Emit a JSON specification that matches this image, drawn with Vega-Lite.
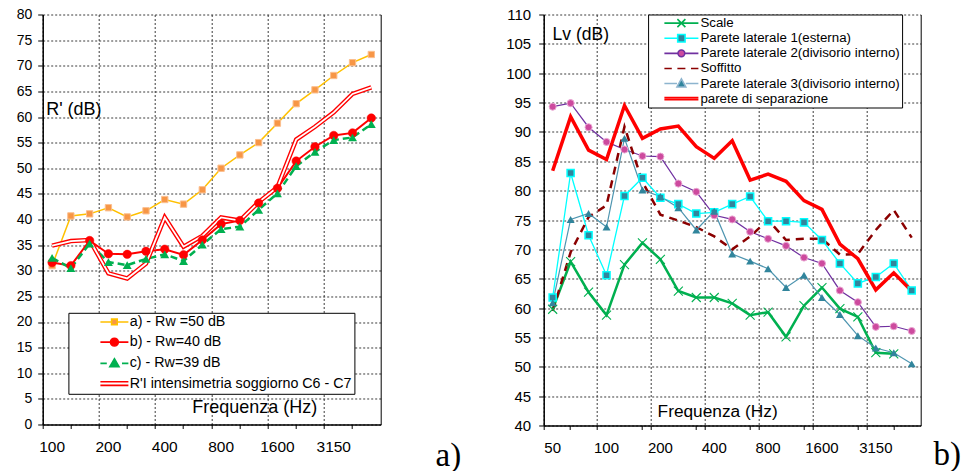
{
"$schema": "https://vega.github.io/schema/vega-lite/v6.json",
"padding": {"left": 15.7, "top": 7.5, "right": 0, "bottom": 0},
"background": "#ffffff",
"config": {
  "font": "Liberation Sans",
  "view": {"stroke": null},
  "axis": {"labelFont": "Liberation Sans", "titleFont": "Liberation Sans", "labelColor": "#000000", "titleColor": "#000000", "titleFontWeight": "normal", "domainColor": "#000000", "tickColor": "#000000", "gridColor": "#3a3a3a", "gridDash": [2, 2], "gridWidth": 1, "labelAngle": 0},
  "legend": {"labelFont": "Liberation Sans", "labelColor": "#000000"}
},
"datasets": {
  "L": [
    {"f":"100","s":"a) - Rw =50 dB","v":31.0},{"f":"125","s":"a) - Rw =50 dB","v":40.7},{"f":"160","s":"a) - Rw =50 dB","v":41.1},{"f":"200","s":"a) - Rw =50 dB","v":42.3},{"f":"250","s":"a) - Rw =50 dB","v":40.5},{"f":"315","s":"a) - Rw =50 dB","v":41.7},{"f":"400","s":"a) - Rw =50 dB","v":43.9},{"f":"500","s":"a) - Rw =50 dB","v":43.0},{"f":"630","s":"a) - Rw =50 dB","v":45.8},{"f":"800","s":"a) - Rw =50 dB","v":50.0},{"f":"1000","s":"a) - Rw =50 dB","v":52.6},{"f":"1250","s":"a) - Rw =50 dB","v":55.0},{"f":"1600","s":"a) - Rw =50 dB","v":58.8},{"f":"2000","s":"a) - Rw =50 dB","v":62.6},{"f":"2500","s":"a) - Rw =50 dB","v":65.3},{"f":"3150","s":"a) - Rw =50 dB","v":68.1},{"f":"4000","s":"a) - Rw =50 dB","v":70.6},{"f":"5000","s":"a) - Rw =50 dB","v":72.2},
    {"f":"100","s":"b) - Rw=40 dB","v":31.6},{"f":"125","s":"b) - Rw=40 dB","v":31.0},{"f":"160","s":"b) - Rw=40 dB","v":35.9},{"f":"200","s":"b) - Rw=40 dB","v":33.3},{"f":"250","s":"b) - Rw=40 dB","v":33.2},{"f":"315","s":"b) - Rw=40 dB","v":33.8},{"f":"400","s":"b) - Rw=40 dB","v":34.2},{"f":"500","s":"b) - Rw=40 dB","v":33.1},{"f":"630","s":"b) - Rw=40 dB","v":36.0},{"f":"800","s":"b) - Rw=40 dB","v":39.1},{"f":"1000","s":"b) - Rw=40 dB","v":39.8},{"f":"1250","s":"b) - Rw=40 dB","v":43.2},{"f":"1600","s":"b) - Rw=40 dB","v":46.1},{"f":"2000","s":"b) - Rw=40 dB","v":51.4},{"f":"2500","s":"b) - Rw=40 dB","v":54.2},{"f":"3150","s":"b) - Rw=40 dB","v":56.4},{"f":"4000","s":"b) - Rw=40 dB","v":56.9},{"f":"5000","s":"b) - Rw=40 dB","v":59.8},
    {"f":"100","s":"c) - Rw=39 dB","v":32.5},{"f":"125","s":"c) - Rw=39 dB","v":30.5},{"f":"160","s":"c) - Rw=39 dB","v":35.3},{"f":"200","s":"c) - Rw=39 dB","v":31.7},{"f":"250","s":"c) - Rw=39 dB","v":31.1},{"f":"315","s":"c) - Rw=39 dB","v":32.3},{"f":"400","s":"c) - Rw=39 dB","v":33.2},{"f":"500","s":"c) - Rw=39 dB","v":31.9},{"f":"630","s":"c) - Rw=39 dB","v":35.1},{"f":"800","s":"c) - Rw=39 dB","v":38.1},{"f":"1000","s":"c) - Rw=39 dB","v":38.6},{"f":"1250","s":"c) - Rw=39 dB","v":41.9},{"f":"1600","s":"c) - Rw=39 dB","v":45.1},{"f":"2000","s":"c) - Rw=39 dB","v":50.4},{"f":"2500","s":"c) - Rw=39 dB","v":53.2},{"f":"3150","s":"c) - Rw=39 dB","v":55.5},{"f":"4000","s":"c) - Rw=39 dB","v":56.0},{"f":"5000","s":"c) - Rw=39 dB","v":58.6},
    {"f":"100","s":"R'I intensimetria soggiorno C6 - C7","v":34.9},{"f":"125","s":"R'I intensimetria soggiorno C6 - C7","v":35.8},{"f":"160","s":"R'I intensimetria soggiorno C6 - C7","v":36.0},{"f":"200","s":"R'I intensimetria soggiorno C6 - C7","v":29.5},{"f":"250","s":"R'I intensimetria soggiorno C6 - C7","v":28.5},{"f":"315","s":"R'I intensimetria soggiorno C6 - C7","v":31.4},{"f":"400","s":"R'I intensimetria soggiorno C6 - C7","v":40.4},{"f":"500","s":"R'I intensimetria soggiorno C6 - C7","v":34.7},{"f":"630","s":"R'I intensimetria soggiorno C6 - C7","v":36.8},{"f":"800","s":"R'I intensimetria soggiorno C6 - C7","v":40.4},{"f":"1000","s":"R'I intensimetria soggiorno C6 - C7","v":39.8},{"f":"1250","s":"R'I intensimetria soggiorno C6 - C7","v":43.4},{"f":"1600","s":"R'I intensimetria soggiorno C6 - C7","v":46.3},{"f":"2000","s":"R'I intensimetria soggiorno C6 - C7","v":55.6},{"f":"2500","s":"R'I intensimetria soggiorno C6 - C7","v":58.1},{"f":"3150","s":"R'I intensimetria soggiorno C6 - C7","v":60.9},{"f":"4000","s":"R'I intensimetria soggiorno C6 - C7","v":64.5},{"f":"5000","s":"R'I intensimetria soggiorno C6 - C7","v":65.8}
  ],
  "R": [
    {"f":"50","s":"Scale","v":59.8},{"f":"63","s":"Scale","v":67.9},{"f":"80","s":"Scale","v":62.7},{"f":"100","s":"Scale","v":58.8},{"f":"125","s":"Scale","v":67.4},{"f":"160","s":"Scale","v":71.1},{"f":"200","s":"Scale","v":68.3},{"f":"250","s":"Scale","v":62.9},{"f":"315","s":"Scale","v":61.8},{"f":"400","s":"Scale","v":61.8},{"f":"500","s":"Scale","v":60.8},{"f":"630","s":"Scale","v":58.8},{"f":"800","s":"Scale","v":59.3},{"f":"1000","s":"Scale","v":55.1},{"f":"1250","s":"Scale","v":60.4},{"f":"1600","s":"Scale","v":63.5},{"f":"2000","s":"Scale","v":59.9},{"f":"2500","s":"Scale","v":58.5},{"f":"3150","s":"Scale","v":52.4},{"f":"4000","s":"Scale","v":52.2},
    {"f":"50","s":"Parete laterale 1(esterna)","v":61.8},{"f":"63","s":"Parete laterale 1(esterna)","v":83.0},{"f":"80","s":"Parete laterale 1(esterna)","v":72.4},{"f":"100","s":"Parete laterale 1(esterna)","v":65.6},{"f":"125","s":"Parete laterale 1(esterna)","v":79.1},{"f":"160","s":"Parete laterale 1(esterna)","v":82.2},{"f":"200","s":"Parete laterale 1(esterna)","v":78.8},{"f":"250","s":"Parete laterale 1(esterna)","v":77.7},{"f":"315","s":"Parete laterale 1(esterna)","v":76.1},{"f":"400","s":"Parete laterale 1(esterna)","v":76.3},{"f":"500","s":"Parete laterale 1(esterna)","v":77.7},{"f":"630","s":"Parete laterale 1(esterna)","v":79.0},{"f":"800","s":"Parete laterale 1(esterna)","v":74.8},{"f":"1000","s":"Parete laterale 1(esterna)","v":74.8},{"f":"1250","s":"Parete laterale 1(esterna)","v":74.6},{"f":"1600","s":"Parete laterale 1(esterna)","v":71.6},{"f":"2000","s":"Parete laterale 1(esterna)","v":67.6},{"f":"2500","s":"Parete laterale 1(esterna)","v":64.2},{"f":"3150","s":"Parete laterale 1(esterna)","v":65.3},{"f":"4000","s":"Parete laterale 1(esterna)","v":67.6},{"f":"5000","s":"Parete laterale 1(esterna)","v":63.0},
    {"f":"50","s":"Parete laterale 2(divisorio interno)","v":94.3},{"f":"63","s":"Parete laterale 2(divisorio interno)","v":94.9},{"f":"80","s":"Parete laterale 2(divisorio interno)","v":90.8},{"f":"100","s":"Parete laterale 2(divisorio interno)","v":88.3},{"f":"125","s":"Parete laterale 2(divisorio interno)","v":87.0},{"f":"160","s":"Parete laterale 2(divisorio interno)","v":85.9},{"f":"200","s":"Parete laterale 2(divisorio interno)","v":85.8},{"f":"250","s":"Parete laterale 2(divisorio interno)","v":81.2},{"f":"315","s":"Parete laterale 2(divisorio interno)","v":79.8},{"f":"400","s":"Parete laterale 2(divisorio interno)","v":75.8},{"f":"500","s":"Parete laterale 2(divisorio interno)","v":75.1},{"f":"630","s":"Parete laterale 2(divisorio interno)","v":73.0},{"f":"800","s":"Parete laterale 2(divisorio interno)","v":71.8},{"f":"1000","s":"Parete laterale 2(divisorio interno)","v":70.6},{"f":"1250","s":"Parete laterale 2(divisorio interno)","v":68.6},{"f":"1600","s":"Parete laterale 2(divisorio interno)","v":67.6},{"f":"2000","s":"Parete laterale 2(divisorio interno)","v":63.0},{"f":"2500","s":"Parete laterale 2(divisorio interno)","v":61.0},{"f":"3150","s":"Parete laterale 2(divisorio interno)","v":56.8},{"f":"4000","s":"Parete laterale 2(divisorio interno)","v":56.9},{"f":"5000","s":"Parete laterale 2(divisorio interno)","v":56.1},
    {"f":"50","s":"Soffitto","v":59.5},{"f":"63","s":"Soffitto","v":69.5},{"f":"80","s":"Soffitto","v":75.5},{"f":"100","s":"Soffitto","v":77.5},{"f":"125","s":"Soffitto","v":90.9},{"f":"160","s":"Soffitto","v":81.5},{"f":"200","s":"Soffitto","v":75.9},{"f":"250","s":"Soffitto","v":74.9},{"f":"315","s":"Soffitto","v":73.8},{"f":"400","s":"Soffitto","v":72.2},{"f":"500","s":"Soffitto","v":70.0},{"f":"630","s":"Soffitto","v":72.2},{"f":"800","s":"Soffitto","v":75.0},{"f":"1000","s":"Soffitto","v":71.6},{"f":"1250","s":"Soffitto","v":71.8},{"f":"1600","s":"Soffitto","v":71.8},{"f":"2000","s":"Soffitto","v":69.1},{"f":"2500","s":"Soffitto","v":69.2},{"f":"3150","s":"Soffitto","v":73.3},{"f":"4000","s":"Soffitto","v":76.7},{"f":"5000","s":"Soffitto","v":72.0},
    {"f":"50","s":"Parete laterale 3(divisorio interno)","v":60.9},{"f":"63","s":"Parete laterale 3(divisorio interno)","v":75.1},{"f":"80","s":"Parete laterale 3(divisorio interno)","v":76.1},{"f":"100","s":"Parete laterale 3(divisorio interno)","v":73.8},{"f":"125","s":"Parete laterale 3(divisorio interno)","v":88.9},{"f":"160","s":"Parete laterale 3(divisorio interno)","v":80.1},{"f":"200","s":"Parete laterale 3(divisorio interno)","v":79.0},{"f":"250","s":"Parete laterale 3(divisorio interno)","v":77.1},{"f":"315","s":"Parete laterale 3(divisorio interno)","v":73.3},{"f":"400","s":"Parete laterale 3(divisorio interno)","v":76.5},{"f":"500","s":"Parete laterale 3(divisorio interno)","v":69.2},{"f":"630","s":"Parete laterale 3(divisorio interno)","v":68.0},{"f":"800","s":"Parete laterale 3(divisorio interno)","v":66.7},{"f":"1000","s":"Parete laterale 3(divisorio interno)","v":63.5},{"f":"1250","s":"Parete laterale 3(divisorio interno)","v":65.6},{"f":"1600","s":"Parete laterale 3(divisorio interno)","v":61.8},{"f":"2000","s":"Parete laterale 3(divisorio interno)","v":58.9},{"f":"2500","s":"Parete laterale 3(divisorio interno)","v":55.3},{"f":"3150","s":"Parete laterale 3(divisorio interno)","v":53.2},{"f":"4000","s":"Parete laterale 3(divisorio interno)","v":52.4},{"f":"5000","s":"Parete laterale 3(divisorio interno)","v":50.5},
    {"f":"50","s":"parete di separazione","v":83.4},{"f":"63","s":"parete di separazione","v":92.6},{"f":"80","s":"parete di separazione","v":86.9},{"f":"100","s":"parete di separazione","v":85.3},{"f":"125","s":"parete di separazione","v":94.5},{"f":"160","s":"parete di separazione","v":88.9},{"f":"200","s":"parete di separazione","v":90.5},{"f":"250","s":"parete di separazione","v":91.0},{"f":"315","s":"parete di separazione","v":87.5},{"f":"400","s":"parete di separazione","v":85.5},{"f":"500","s":"parete di separazione","v":88.5},{"f":"630","s":"parete di separazione","v":81.8},{"f":"800","s":"parete di separazione","v":82.8},{"f":"1000","s":"parete di separazione","v":81.6},{"f":"1250","s":"parete di separazione","v":78.3},{"f":"1600","s":"parete di separazione","v":76.8},{"f":"2000","s":"parete di separazione","v":70.9},{"f":"2500","s":"parete di separazione","v":68.4},{"f":"3150","s":"parete di separazione","v":63.1},{"f":"4000","s":"parete di separazione","v":66.0},{"f":"5000","s":"parete di separazione","v":62.9}
  ]
},
"resolve": {
  "scale": {"fill": "independent", "stroke": "independent", "shape": "independent"},
  "legend": {"fill": "independent", "stroke": "independent", "shape": "independent"}
},
"hconcat": [
  {
    "width": 338, "height": 410,
    "data": {"name": "L"},
    "resolve": {"axis": {"x": "independent", "y": "independent"}},
    "layer": [
      {"transform": [{"filter": {"field": "s", "equal": "a) - Rw =50 dB"}}],
       "mark": {"type": "line", "color": "#FFC000", "strokeWidth": 1.5},
       "encoding": {
         "x": {"field": "f", "type": "ordinal", "bandPosition": 0.5, "scale": {"type": "band", "domain": ["100","125","160","200","250","315","400","500","630","800","1000","1250","1600","2000","2500","3150","4000","5000"], "paddingInner": 0, "paddingOuter": 0},
               "axis": {"orient": "bottom", "values": ["100","200","400","800","1600","3150"], "bandPosition": 0.5, "ticks": false, "tickSize": 0, "grid": false, "domain": true, "domainWidth": 1.5, "labelFontSize": 15.5, "labelPadding": 15, "title": "Frequenza (Hz)", "titleFontSize": 18, "titleX": 149, "titleY": -11.6, "titleAlign": "left", "titleBaseline": "alphabetic"}},
         "y": {"field": "v", "type": "quantitative", "scale": {"domain": [0, 80], "nice": false, "zero": false},
               "axis": {"orient": "left", "values": [0,5,10,15,20,25,30,35,40,45,50,55,60,65,70,75,80], "grid": true, "ticks": true, "tickSize": 5, "domain": true, "domainWidth": 1.5, "labelFontSize": 14, "labelPadding": 6, "title": "R' (dB)", "titleAngle": 0, "titleAlign": "left", "titleBaseline": "alphabetic", "titleX": 3, "titleY": 100.3, "titleFontSize": 18}}
       }},
      {"transform": [{"filter": {"field": "s", "equal": "b) - Rw=40 dB"}}],
       "mark": {"type": "line", "color": "#FF0000", "strokeWidth": 2},
       "encoding": {
         "x": {"field": "f", "type": "ordinal", "bandPosition": 0.5, "scale": {"type": "band", "domain": ["100","125","160","200","250","315","400","500","630","800","1000","1250","1600","2000","2500","3150","4000","5000"], "paddingInner": 0, "paddingOuter": 0}, "axis": null},
         "y": {"field": "v", "type": "quantitative", "scale": {"domain": [0, 80], "nice": false, "zero": false}, "axis": null}
       }},
      {"transform": [{"filter": {"field": "s", "equal": "c) - Rw=39 dB"}}],
       "mark": {"type": "line", "color": "#00B050", "strokeWidth": 2.5, "strokeDash": [7, 4]},
       "encoding": {
         "x": {"field": "f", "type": "ordinal", "bandPosition": 0.5, "scale": {"type": "band", "domain": ["100","125","160","200","250","315","400","500","630","800","1000","1250","1600","2000","2500","3150","4000","5000"], "paddingInner": 0, "paddingOuter": 0}, "axis": null},
         "y": {"field": "v", "type": "quantitative", "scale": {"domain": [0, 80], "nice": false, "zero": false}, "axis": null}
       }},
      {"transform": [{"filter": {"field": "s", "equal": "R'I intensimetria soggiorno C6 - C7"}}],
       "mark": {"type": "line", "color": "#FF0000", "strokeWidth": 4.5},
       "encoding": {
         "x": {"field": "f", "type": "ordinal", "bandPosition": 0.5, "scale": {"type": "band", "domain": ["100","125","160","200","250","315","400","500","630","800","1000","1250","1600","2000","2500","3150","4000","5000"], "paddingInner": 0, "paddingOuter": 0}, "axis": null},
         "y": {"field": "v", "type": "quantitative", "scale": {"domain": [0, 80], "nice": false, "zero": false}, "axis": null}
       }},
      {"transform": [{"filter": {"field": "s", "equal": "R'I intensimetria soggiorno C6 - C7"}}],
       "mark": {"type": "line", "color": "#FFFFFF", "strokeWidth": 1.8},
       "encoding": {
         "x": {"field": "f", "type": "ordinal", "bandPosition": 0.5, "scale": {"type": "band", "domain": ["100","125","160","200","250","315","400","500","630","800","1000","1250","1600","2000","2500","3150","4000","5000"], "paddingInner": 0, "paddingOuter": 0}, "axis": null},
         "y": {"field": "v", "type": "quantitative", "scale": {"domain": [0, 80], "nice": false, "zero": false}, "axis": null}
       }},
      {"transform": [{"filter": {"field": "s", "equal": "a) - Rw =50 dB"}}],
       "mark": {"type": "point", "shape": "square", "filled": true, "fill": "#F79646", "stroke": "#FBBF8F", "strokeWidth": 1, "size": 40, "opacity": 1},
       "encoding": {
         "x": {"field": "f", "type": "ordinal", "bandPosition": 0.5, "scale": {"type": "band", "domain": ["100","125","160","200","250","315","400","500","630","800","1000","1250","1600","2000","2500","3150","4000","5000"], "paddingInner": 0, "paddingOuter": 0}, "axis": null},
         "y": {"field": "v", "type": "quantitative", "scale": {"domain": [0, 80], "nice": false, "zero": false}, "axis": null}
       }},
      {"transform": [{"filter": {"field": "s", "equal": "b) - Rw=40 dB"}}],
       "mark": {"type": "point", "shape": "circle", "filled": true, "fill": "#FF0000", "stroke": "#FF0000", "strokeWidth": 0.5, "size": 72, "opacity": 1},
       "encoding": {
         "x": {"field": "f", "type": "ordinal", "bandPosition": 0.5, "scale": {"type": "band", "domain": ["100","125","160","200","250","315","400","500","630","800","1000","1250","1600","2000","2500","3150","4000","5000"], "paddingInner": 0, "paddingOuter": 0}, "axis": null},
         "y": {"field": "v", "type": "quantitative", "scale": {"domain": [0, 80], "nice": false, "zero": false}, "axis": null}
       }},
      {"transform": [{"filter": {"field": "s", "equal": "c) - Rw=39 dB"}}],
       "mark": {"type": "point", "shape": "triangle-up", "filled": true, "fill": "#00B050", "size": 80, "opacity": 1},
       "encoding": {
         "x": {"field": "f", "type": "ordinal", "bandPosition": 0.5, "scale": {"type": "band", "domain": ["100","125","160","200","250","315","400","500","630","800","1000","1250","1600","2000","2500","3150","4000","5000"], "paddingInner": 0, "paddingOuter": 0}, "axis": null},
         "y": {"field": "v", "type": "quantitative", "scale": {"domain": [0, 80], "nice": false, "zero": false}, "axis": null}
       }},
      {"mark": {"type": "point", "opacity": 0},
       "encoding": {
         "x": {"field": "f", "type": "ordinal", "bandPosition": 0.5, "scale": {"type": "band", "domain": ["100","125","160","200","250","315","400","500","630","800","1000","1250","1600","2000","2500","3150","4000","5000"], "paddingInner": 0, "paddingOuter": 0},
               "axis": {"orient": "bottom", "values": ["100","200","400","800","1600","3150"], "bandPosition": 0, "grid": true, "ticks": true, "tickSize": 4, "labels": false, "domain": false, "title": "a)", "titleFont": "Liberation Serif", "titleFontSize": 33, "titleFontWeight": "normal", "titleX": 418, "titleY": 40.7, "titleAlign": "right", "titleBaseline": "alphabetic"}},
         "y": {"field": "v", "type": "quantitative", "scale": {"domain": [0, 80], "nice": false, "zero": false},
               "axis": {"orient": "right", "grid": false, "ticks": false, "labels": false, "domain": true, "domainWidth": 1, "title": null}},
         "fill": {"field": "s", "type": "nominal",
                  "scale": {"domain": ["a) - Rw =50 dB","b) - Rw=40 dB","c) - Rw=39 dB","R'I intensimetria soggiorno C6 - C7"], "range": ["#F79646","#FF0000","#00B050","#FFFFFF"]},
                  "legend": {"title": null, "orient": "none", "legendX": 25.7, "legendY": 298.3, "fillColor": "#FFFFFF", "strokeColor": "#000000", "padding": 2, "symbolOffset": 36.85, "symbolSize": 64, "symbolStrokeWidth": 1.6, "symbolOpacity": 1, "labelFontSize": 14.3, "labelOffset": 8.15, "rowPadding": 5.2, "labelLimit": 400}},
         "stroke": {"field": "s", "type": "nominal",
                  "scale": {"domain": ["a) - Rw =50 dB","b) - Rw=40 dB","c) - Rw=39 dB","R'I intensimetria soggiorno C6 - C7"], "range": ["#FFC000","#FF0000","#00B050","#FF0000"]},
                  "legend": {"title": null, "orient": "none", "legendX": 25.7, "legendY": 298.3, "fillColor": "#FFFFFF", "strokeColor": "#000000", "padding": 2, "symbolOffset": 36.85, "symbolSize": 64, "symbolStrokeWidth": 1.6, "symbolOpacity": 1, "labelFontSize": 14.3, "labelOffset": 8.15, "rowPadding": 5.2, "labelLimit": 400}},
         "shape": {"field": "s", "type": "nominal",
                  "scale": {"domain": ["a) - Rw =50 dB","b) - Rw=40 dB","c) - Rw=39 dB","R'I intensimetria soggiorno C6 - C7"], "range": ["M-3.5,0H-0.7M0.7,0H3.5M-0.7,-0.7H0.7V0.7H-0.7Z","M-3.5,0H3.5M-0.98,0A0.98,0.98,0,1,0,0.98,0A0.98,0.98,0,1,0,-0.98,0Z","M-3.5,0H-1.9M1.9,0H3.5M0,-1.15L1.15,0.85L-1.15,0.85Z","M-3.5,-0.45H3.5M-3.5,0.45H3.5"]},
                  "legend": {"title": null, "orient": "none", "legendX": 25.7, "legendY": 298.3, "fillColor": "#FFFFFF", "strokeColor": "#000000", "padding": 2, "symbolOffset": 36.85, "symbolSize": 64, "symbolStrokeWidth": 1.6, "symbolOpacity": 1, "labelFontSize": 14.3, "labelOffset": 8.15, "rowPadding": 5.2, "labelLimit": 400}}
       }},
      {"mark": {"type": "point", "opacity": 0},
       "encoding": {
         "x": {"field": "f", "type": "ordinal", "bandPosition": 0.5, "scale": {"type": "band", "domain": ["100","125","160","200","250","315","400","500","630","800","1000","1250","1600","2000","2500","3150","4000","5000"], "paddingInner": 0, "paddingOuter": 0},
               "axis": {"orient": "bottom", "values": ["125","250","500","1000","2000","4000"], "bandPosition": 0.5, "grid": false, "ticks": true, "tickSize": 4, "labels": false, "domain": false, "title": null}},
         "y": {"field": "v", "type": "quantitative", "scale": {"domain": [0, 80], "nice": false, "zero": false}, "axis": null}
       }}
    ]
  },
  {
    "width": 377, "height": 411,
    "data": {"name": "R"},
    "resolve": {"axis": {"x": "independent", "y": "independent"}},
    "layer": [
      {"transform": [{"filter": {"field": "s", "equal": "Scale"}}],
       "mark": {"type": "line", "color": "#00B050", "strokeWidth": 2.5},
       "encoding": {
         "x": {"field": "f", "type": "ordinal", "bandPosition": 0.5, "scale": {"type": "band", "domain": ["50","63","80","100","125","160","200","250","315","400","500","630","800","1000","1250","1600","2000","2500","3150","4000","5000"], "paddingInner": 0, "paddingOuter": 0},
               "axis": {"orient": "bottom", "values": ["50","100","200","400","800","1600","3150"], "bandPosition": 0.5, "ticks": false, "tickSize": 0, "grid": false, "domain": true, "domainWidth": 1.5, "labelFontSize": 15, "labelPadding": 15, "title": "Frequenza (Hz)", "titleFontSize": 17.3, "titleX": 113.4, "titleY": -8.7, "titleAlign": "left", "titleBaseline": "alphabetic"}},
         "y": {"field": "v", "type": "quantitative", "scale": {"domain": [40, 110], "nice": false, "zero": false},
               "axis": {"orient": "left", "values": [40,45,50,55,60,65,70,75,80,85,90,95,100,105,110], "grid": true, "ticks": true, "tickSize": 5, "domain": true, "domainWidth": 1.5, "labelFontSize": 15, "labelPadding": 8, "title": "Lv (dB)", "titleAngle": 0, "titleAlign": "left", "titleBaseline": "alphabetic", "titleX": 8.4, "titleY": 25.4, "titleFontSize": 17.5}}
       }},
      {"transform": [{"filter": {"field": "s", "equal": "Parete laterale 1(esterna)"}}],
       "mark": {"type": "line", "color": "#00FFFF", "strokeWidth": 1.3},
       "encoding": {
         "x": {"field": "f", "type": "ordinal", "bandPosition": 0.5, "scale": {"type": "band", "domain": ["50","63","80","100","125","160","200","250","315","400","500","630","800","1000","1250","1600","2000","2500","3150","4000","5000"], "paddingInner": 0, "paddingOuter": 0}, "axis": null},
         "y": {"field": "v", "type": "quantitative", "scale": {"domain": [40, 110], "nice": false, "zero": false}, "axis": null}
       }},
      {"transform": [{"filter": {"field": "s", "equal": "Parete laterale 2(divisorio interno)"}}],
       "mark": {"type": "line", "color": "#7030A0", "strokeWidth": 1.2},
       "encoding": {
         "x": {"field": "f", "type": "ordinal", "bandPosition": 0.5, "scale": {"type": "band", "domain": ["50","63","80","100","125","160","200","250","315","400","500","630","800","1000","1250","1600","2000","2500","3150","4000","5000"], "paddingInner": 0, "paddingOuter": 0}, "axis": null},
         "y": {"field": "v", "type": "quantitative", "scale": {"domain": [40, 110], "nice": false, "zero": false}, "axis": null}
       }},
      {"transform": [{"filter": {"field": "s", "equal": "Soffitto"}}],
       "mark": {"type": "line", "color": "#8B0000", "strokeWidth": 2.5, "strokeDash": [8, 6]},
       "encoding": {
         "x": {"field": "f", "type": "ordinal", "bandPosition": 0.5, "scale": {"type": "band", "domain": ["50","63","80","100","125","160","200","250","315","400","500","630","800","1000","1250","1600","2000","2500","3150","4000","5000"], "paddingInner": 0, "paddingOuter": 0}, "axis": null},
         "y": {"field": "v", "type": "quantitative", "scale": {"domain": [40, 110], "nice": false, "zero": false}, "axis": null}
       }},
      {"transform": [{"filter": {"field": "s", "equal": "Parete laterale 3(divisorio interno)"}}],
       "mark": {"type": "line", "color": "#4E95B0", "strokeWidth": 1.2},
       "encoding": {
         "x": {"field": "f", "type": "ordinal", "bandPosition": 0.5, "scale": {"type": "band", "domain": ["50","63","80","100","125","160","200","250","315","400","500","630","800","1000","1250","1600","2000","2500","3150","4000","5000"], "paddingInner": 0, "paddingOuter": 0}, "axis": null},
         "y": {"field": "v", "type": "quantitative", "scale": {"domain": [40, 110], "nice": false, "zero": false}, "axis": null}
       }},
      {"transform": [{"filter": {"field": "s", "equal": "parete di separazione"}}],
       "mark": {"type": "line", "color": "#FF0000", "strokeWidth": 3.5},
       "encoding": {
         "x": {"field": "f", "type": "ordinal", "bandPosition": 0.5, "scale": {"type": "band", "domain": ["50","63","80","100","125","160","200","250","315","400","500","630","800","1000","1250","1600","2000","2500","3150","4000","5000"], "paddingInner": 0, "paddingOuter": 0}, "axis": null},
         "y": {"field": "v", "type": "quantitative", "scale": {"domain": [40, 110], "nice": false, "zero": false}, "axis": null}
       }},
      {"transform": [{"filter": {"field": "s", "equal": "Scale"}}],
       "mark": {"type": "point", "shape": "M-1,-1L1,1M-1,1L1,-1", "filled": false, "stroke": "#00B050", "strokeWidth": 1.1, "size": 81, "opacity": 1},
       "encoding": {
         "x": {"field": "f", "type": "ordinal", "bandPosition": 0.5, "scale": {"type": "band", "domain": ["50","63","80","100","125","160","200","250","315","400","500","630","800","1000","1250","1600","2000","2500","3150","4000","5000"], "paddingInner": 0, "paddingOuter": 0}, "axis": null},
         "y": {"field": "v", "type": "quantitative", "scale": {"domain": [40, 110], "nice": false, "zero": false}, "axis": null}
       }},
      {"transform": [{"filter": {"field": "s", "equal": "Parete laterale 1(esterna)"}}],
       "mark": {"type": "point", "shape": "square", "filled": true, "fill": "#31859C", "stroke": "#00FFFF", "strokeWidth": 1.5, "size": 50, "opacity": 1},
       "encoding": {
         "x": {"field": "f", "type": "ordinal", "bandPosition": 0.5, "scale": {"type": "band", "domain": ["50","63","80","100","125","160","200","250","315","400","500","630","800","1000","1250","1600","2000","2500","3150","4000","5000"], "paddingInner": 0, "paddingOuter": 0}, "axis": null},
         "y": {"field": "v", "type": "quantitative", "scale": {"domain": [40, 110], "nice": false, "zero": false}, "axis": null}
       }},
      {"transform": [{"filter": {"field": "s", "equal": "Parete laterale 2(divisorio interno)"}}],
       "mark": {"type": "point", "shape": "circle", "filled": true, "fill": "#CD4A9E", "stroke": "#E9A6D2", "strokeWidth": 1, "size": 50, "opacity": 1},
       "encoding": {
         "x": {"field": "f", "type": "ordinal", "bandPosition": 0.5, "scale": {"type": "band", "domain": ["50","63","80","100","125","160","200","250","315","400","500","630","800","1000","1250","1600","2000","2500","3150","4000","5000"], "paddingInner": 0, "paddingOuter": 0}, "axis": null},
         "y": {"field": "v", "type": "quantitative", "scale": {"domain": [40, 110], "nice": false, "zero": false}, "axis": null}
       }},
      {"transform": [{"filter": {"field": "s", "equal": "Parete laterale 3(divisorio interno)"}}],
       "mark": {"type": "point", "shape": "triangle-up", "filled": true, "fill": "#31859C", "size": 64, "opacity": 1},
       "encoding": {
         "x": {"field": "f", "type": "ordinal", "bandPosition": 0.5, "scale": {"type": "band", "domain": ["50","63","80","100","125","160","200","250","315","400","500","630","800","1000","1250","1600","2000","2500","3150","4000","5000"], "paddingInner": 0, "paddingOuter": 0}, "axis": null},
         "y": {"field": "v", "type": "quantitative", "scale": {"domain": [40, 110], "nice": false, "zero": false}, "axis": null}
       }},
      {"mark": {"type": "point", "opacity": 0},
       "encoding": {
         "x": {"field": "f", "type": "ordinal", "bandPosition": 0.5, "scale": {"type": "band", "domain": ["50","63","80","100","125","160","200","250","315","400","500","630","800","1000","1250","1600","2000","2500","3150","4000","5000"], "paddingInner": 0, "paddingOuter": 0},
               "axis": {"orient": "bottom", "values": ["50","100","200","400","800","1600","3150"], "bandPosition": 0, "grid": true, "ticks": true, "tickSize": 4, "labels": false, "domain": false, "title": "b)", "titleFont": "Liberation Serif", "titleFontSize": 33, "titleFontWeight": "normal", "titleX": 416.7, "titleY": 39, "titleAlign": "right", "titleBaseline": "alphabetic"}},
         "y": {"field": "v", "type": "quantitative", "scale": {"domain": [40, 110], "nice": false, "zero": false},
               "axis": {"orient": "right", "grid": false, "ticks": false, "labels": false, "domain": true, "domainWidth": 1, "title": null}},
         "fill": {"field": "s", "type": "nominal",
                  "scale": {"domain": ["Scale","Parete laterale 1(esterna)","Parete laterale 2(divisorio interno)","Soffitto","Parete laterale 3(divisorio interno)","parete di separazione"], "range": ["#00B050","#31859C","#CD4A9E","#8B0000","#31859C","#FF0000"]},
                  "legend": {"title": null, "orient": "none", "legendX": 104.4, "legendY": 0, "fillColor": "#FFFFFF", "strokeColor": "#000000", "padding": 2, "symbolOffset": 24.65, "symbolSize": 64, "symbolStrokeWidth": 1.6, "symbolOpacity": 1, "labelFontSize": 13.3, "labelOffset": 12.35, "rowPadding": 0.1, "labelLimit": 400}},
         "stroke": {"field": "s", "type": "nominal",
                  "scale": {"domain": ["Scale","Parete laterale 1(esterna)","Parete laterale 2(divisorio interno)","Soffitto","Parete laterale 3(divisorio interno)","parete di separazione"], "range": ["#00B050","#00FFFF","#7030A0","#8B0000","#8DB4CE","#FF0000"]},
                  "legend": {"title": null, "orient": "none", "legendX": 104.4, "legendY": 0, "fillColor": "#FFFFFF", "strokeColor": "#000000", "padding": 2, "symbolOffset": 24.65, "symbolSize": 64, "symbolStrokeWidth": 1.6, "symbolOpacity": 1, "labelFontSize": 13.3, "labelOffset": 12.35, "rowPadding": 0.1, "labelLimit": 400}},
         "shape": {"field": "s", "type": "nominal",
                  "scale": {"domain": ["Scale","Parete laterale 1(esterna)","Parete laterale 2(divisorio interno)","Soffitto","Parete laterale 3(divisorio interno)","parete di separazione"], "range": ["M-4.25,0H4.25M-1,-1L1,1M-1,1L1,-1","M-4.25,0H-0.92M0.92,0H4.25M-0.92,-0.92H0.92V0.92H-0.92Z","M-4.25,0H-0.85M0.85,0H4.25M-0.85,0A0.85,0.85,0,1,0,0.85,0A0.85,0.85,0,1,0,-0.85,0Z","M-4.25,0H-2.4M-1,0H1M2.4,0H4.25","M-4.25,0H-1.1M1.1,0H4.25M0,-1.15L1.1,0.85L-1.1,0.85Z","M-4.25,-0.25H4.25M-4.25,0.25H4.25"]},
                  "legend": {"title": null, "orient": "none", "legendX": 104.4, "legendY": 0, "fillColor": "#FFFFFF", "strokeColor": "#000000", "padding": 2, "symbolOffset": 24.65, "symbolSize": 64, "symbolStrokeWidth": 1.6, "symbolOpacity": 1, "labelFontSize": 13.3, "labelOffset": 12.35, "rowPadding": 0.1, "labelLimit": 400}}
       }},
      {"mark": {"type": "point", "opacity": 0},
       "encoding": {
         "x": {"field": "f", "type": "ordinal", "bandPosition": 0.5, "scale": {"type": "band", "domain": ["50","63","80","100","125","160","200","250","315","400","500","630","800","1000","1250","1600","2000","2500","3150","4000","5000"], "paddingInner": 0, "paddingOuter": 0},
               "axis": {"orient": "bottom", "values": ["63","160","315","630","1250","2500","4000"], "bandPosition": 0.5, "grid": false, "ticks": true, "tickSize": 4, "labels": false, "domain": false, "title": null}},
         "y": {"field": "v", "type": "quantitative", "scale": {"domain": [40, 110], "nice": false, "zero": false}, "axis": null}
       }}
    ]
  }
],
"spacing": 163,
"bounds": "flush"
}
